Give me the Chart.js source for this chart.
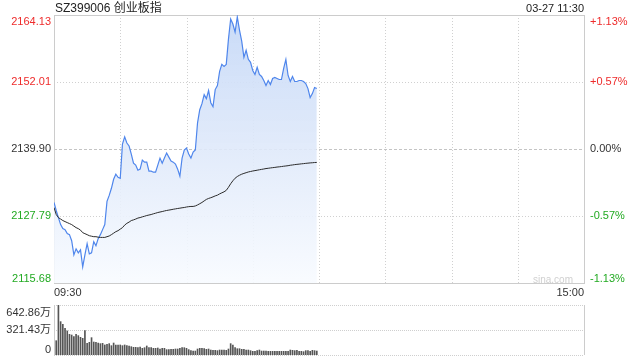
<!DOCTYPE html>
<html>
<head>
<meta charset="utf-8">
<script src="https://cdn.jsdelivr.net/npm/chart.js@4.4.1/dist/chart.umd.min.js"></script>
<style>
    html, body { margin: 0; padding: 0; background: #fff; }
    body { width: 640px; height: 360px; position: relative; overflow: hidden;
           font-family: "Liberation Sans", Arial, "Noto Sans CJK SC", sans-serif; }
    #title { position: absolute; left: 55px; top: 0; font-size: 12px; line-height: 16px; color: #222; }
    #stamp { position: absolute; right: 56px; top: 0; font-size: 11px; line-height: 16px; color: #222; }
    #brand { position: absolute; right: 67px; top: 274px; font-size: 10px; line-height: 12px; color: #d0d0d0; }
    #priceBox { position: absolute; left: 0; top: 0; }
    #volBox { position: absolute; left: 0; top: 300px; }
</style>
</head>
<body>
<div id="priceBox"><canvas id="priceChart" width="640" height="300"></canvas></div>
<div id="volBox"><canvas id="volChart" width="640" height="60"></canvas></div>
<div id="title">SZ399006 创业板指</div>
<div id="stamp">03-27 11:30</div>
<div id="brand">sina.com</div>
<script>
// 分时数据 (每分钟, 09:30 起)
const price = [
    2130.24, 2128.79, 2127.51, 2126.24, 2125.51, 2125.33, 2124.60, 2124.42, 2123.32, 2120.77,
    2121.86, 2121.14, 2121.68, 2118.60, 2120.77, 2122.78, 2120.95, 2121.14, 2123.14, 2122.41,
    2123.69, 2124.42, 2125.33, 2126.24, 2130.43, 2131.52, 2132.80, 2134.43, 2135.35, 2134.80,
    2134.62, 2140.81, 2142.09, 2140.99, 2140.45, 2138.99, 2137.35, 2136.99, 2136.07, 2136.26,
    2137.90, 2137.53, 2137.53, 2135.89, 2135.89, 2135.71, 2135.71, 2136.99, 2138.26, 2137.35,
    2138.26, 2139.17, 2138.44, 2137.71, 2137.53, 2137.17, 2136.26, 2134.98, 2138.26, 2139.72,
    2140.08, 2138.99, 2138.26, 2139.35, 2139.72, 2144.64, 2147.01, 2148.10, 2149.74, 2149.01,
    2150.47, 2148.28, 2147.55, 2150.65, 2151.38, 2153.93, 2155.20, 2154.84, 2155.20, 2159.76,
    2163.40, 2162.49, 2161.03, 2163.77, 2161.40, 2159.39, 2156.48, 2157.75, 2156.11, 2155.57,
    2154.11, 2153.38, 2154.66, 2153.38, 2153.02, 2152.29, 2151.38, 2152.29, 2151.56, 2152.65,
    2152.84, 2152.65, 2152.47, 2152.47, 2154.47, 2156.11, 2153.20, 2152.11, 2153.02, 2152.11,
    2152.11, 2152.29, 2152.29, 2152.11, 2151.74, 2150.83, 2149.19, 2149.92, 2151.01, 2150.83
];
const avgPrice = [
    2129.33, 2128.06, 2127.51, 2127.24, 2126.97, 2126.78, 2126.60, 2126.42, 2126.24, 2125.96,
    2125.69, 2125.51, 2125.24, 2124.78, 2124.60, 2124.42, 2124.23, 2124.14, 2124.05, 2124.05,
    2123.96, 2123.92, 2123.92, 2123.92, 2124.05, 2124.18, 2124.42, 2124.69, 2124.96, 2125.14,
    2125.42, 2125.69, 2126.15, 2126.47, 2126.69, 2126.97, 2127.09, 2127.24, 2127.42, 2127.51,
    2127.64, 2127.75, 2127.88, 2127.97, 2128.06, 2128.19, 2128.30, 2128.42, 2128.51, 2128.60,
    2128.70, 2128.79, 2128.86, 2128.93, 2129.01, 2129.08, 2129.15, 2129.21, 2129.28, 2129.33,
    2129.42, 2129.48, 2129.52, 2129.52, 2129.61, 2129.79, 2130.01, 2130.24, 2130.52, 2130.79,
    2130.97, 2131.10, 2131.25, 2131.43, 2131.56, 2131.79, 2131.98, 2132.16, 2132.43, 2132.98,
    2133.62, 2134.16, 2134.62, 2134.93, 2135.16, 2135.35, 2135.49, 2135.62, 2135.75, 2135.84,
    2135.93, 2136.00, 2136.07, 2136.15, 2136.22, 2136.29, 2136.37, 2136.42, 2136.48, 2136.53,
    2136.58, 2136.64, 2136.68, 2136.73, 2136.79, 2136.84, 2136.89, 2136.97, 2137.02, 2137.08,
    2137.13, 2137.17, 2137.22, 2137.26, 2137.31, 2137.35, 2137.39, 2137.42, 2137.46, 2137.48
];
// 成交量 (万), 从 09:31 起
const volume = [
    184, 643, 429, 394, 343, 309, 266, 257, 236, 266,
    249, 227, 214, 313, 150, 163, 223, 167, 163, 154,
    146, 150, 129, 137, 146, 120, 154, 129, 129, 129,
    120, 129, 120, 116, 107, 99, 99, 94, 103, 86,
    94, 116, 94, 94, 86, 86, 90, 77, 86, 86,
    69, 69, 73, 73, 77, 77, 86, 94, 94, 86,
    69, 56, 51, 51, 77, 86, 86, 81, 73, 77,
    64, 60, 60, 56, 64, 64, 64, 60, 77, 146,
    129, 94, 81, 81, 73, 73, 64, 64, 56, 47,
    47, 56, 64, 51, 51, 51, 47, 47, 47, 47,
    47, 47, 47, 47, 47, 47, 64, 60, 56, 60,
    47, 47, 43, 56, 56, 47, 60, 56, 51
];

const priceTicks = [2164.13, 2152.01, 2139.90, 2127.79, 2115.68];
const priceTickLabels = ['2164.13', '2152.01', '2139.90', '2127.79', '2115.68'];
const pctTickLabels = ['+1.13%', '+0.57%', '0.00%', '-0.57%', '-1.13%'];
const volTicks = [642.86, 321.43, 0];
const volTickLabels = ['642.86万', '321.43万', '0'];
const timeTicks = [0, 240];
const timeTickLabels = ['09:30', '15:00'];
const gridMinutes = [30, 60, 90, 120, 150, 180, 210];
const totalMinutes = 240;

const RED = '#ee2b2b';
const GREEN = '#22aa22';
const DARK = '#333333';
const FONT = '11px "Liberation Sans", Arial, "Noto Sans CJK SC", sans-serif';

function tickColor(i, n) {
    const mid = (n - 1) / 2;
    if (i < mid) return RED;
    if (i > mid) return GREEN;
    return DARK;
}

function hLine(ctx, x1, x2, y) {
    ctx.beginPath();
    ctx.moveTo(x1, y);
    ctx.lineTo(x2, y);
    ctx.stroke();
}

function vLine(ctx, x, y1, y2) {
    ctx.beginPath();
    ctx.moveTo(x, y1);
    ctx.lineTo(x, y2);
    ctx.stroke();
}

// 分时图网格和坐标文字
const priceFrame = {
    id: 'priceFrame',
    beforeDatasetsDraw(chart) {
        const { ctx, chartArea: a, scales: { x, y } } = chart;
        ctx.save();
        ctx.lineWidth = 1;
        ctx.strokeStyle = '#d0d0d0';
        ctx.setLineDash([1, 2]);
        gridMinutes.forEach(m => {
            const px = Math.round(x.getPixelForValue(m)) + 0.5;
            vLine(ctx, px, a.top, a.bottom);
        });
        priceTicks.forEach((v, i) => {
            if (i === 0 || i === priceTicks.length - 1) return;
            const py = Math.round(y.getPixelForValue(v)) + 0.5;
            if (i === 2) {
                ctx.strokeStyle = '#c4c4c4';
                ctx.setLineDash([3, 2]);
            } else {
                ctx.strokeStyle = '#d0d0d0';
                ctx.setLineDash([1, 2]);
            }
            hLine(ctx, a.left, a.right, py);
        });
        ctx.setLineDash([]);
        ctx.strokeStyle = '#cccccc';
        ctx.strokeRect(Math.round(a.left) + 0.5, Math.round(a.top) + 0.5,
            Math.round(a.right - a.left), Math.round(a.bottom - a.top));
        ctx.restore();
    },
    afterDraw(chart) {
        const { ctx, chartArea: a, scales: { x, y } } = chart;
        const n = priceTicks.length;
        ctx.save();
        ctx.font = FONT;
        priceTicks.forEach((v, i) => {
            let py = y.getPixelForValue(v);
            if (i === 0) { ctx.textBaseline = 'top'; py = a.top + 1; }
            else if (i === n - 1) { ctx.textBaseline = 'alphabetic'; py = a.bottom - 1; }
            else ctx.textBaseline = 'middle';
            ctx.fillStyle = tickColor(i, n);
            ctx.textAlign = 'right';
            ctx.fillText(priceTickLabels[i], a.left - 3, py);
            ctx.textAlign = 'left';
            ctx.fillText(pctTickLabels[i], a.right + 6, py);
        });
        ctx.fillStyle = DARK;
        ctx.textBaseline = 'top';
        timeTicks.forEach((m, i) => {
            ctx.textAlign = i === 0 ? 'left' : 'right';
            ctx.fillText(timeTickLabels[i], x.getPixelForValue(m), a.bottom + 4);
        });
        ctx.restore();
    }
};

// 成交量图网格和坐标文字
const volFrame = {
    id: 'volFrame',
    beforeDatasetsDraw(chart) {
        const { ctx, chartArea: a, scales: { y } } = chart;
        ctx.save();
        ctx.lineWidth = 1;
        ctx.strokeStyle = '#cfcfcf';
        ctx.setLineDash([1, 1]);
        volTicks.forEach(v => {
            const py = Math.round(y.getPixelForValue(v)) + 0.5;
            hLine(ctx, a.left, a.right, py);
        });
        ctx.setLineDash([]);
        ctx.strokeStyle = '#cccccc';
        vLine(ctx, Math.round(a.left) + 0.5, a.top, a.bottom);
        vLine(ctx, Math.round(a.right) + 0.5, a.top, a.bottom);
        ctx.restore();
    },
    afterDraw(chart) {
        const { ctx, chartArea: a, scales: { y } } = chart;
        ctx.save();
        ctx.font = FONT;
        ctx.fillStyle = DARK;
        ctx.textAlign = 'right';
        volTicks.forEach((v, i) => {
            let py = y.getPixelForValue(v);
            if (i === 0) { ctx.textBaseline = 'top'; py = a.top + 2; }
            else if (i === volTicks.length - 1) { ctx.textBaseline = 'alphabetic'; py = a.bottom - 2; }
            else ctx.textBaseline = 'middle';
            ctx.fillText(volTickLabels[i], a.left - 3, py);
        });
        ctx.restore();
    }
};

function fillGradient(context) {
    const { ctx, chartArea } = context.chart;
    if (!chartArea) return 'rgba(210,225,248,0.6)';
    const g = ctx.createLinearGradient(0, chartArea.top, 0, chartArea.bottom);
    g.addColorStop(0, 'rgba(198,217,247,0.95)');
    g.addColorStop(0.5, 'rgba(223,233,250,0.9)');
    g.addColorStop(1, 'rgba(248,251,255,0.9)');
    return g;
}

new Chart(document.getElementById('priceChart'), {
    type: 'line',
    data: {
        datasets: [
            {
                data: avgPrice.map((v, i) => ({ x: i, y: v })),
                borderColor: '#2b2b2b',
                borderWidth: 1,
                pointRadius: 0,
                fill: false,
                tension: 0
            },
            {
                data: price.map((v, i) => ({ x: i, y: v })),
                borderColor: '#4f86ec',
                borderWidth: 1.2,
                pointRadius: 0,
                fill: 'start',
                backgroundColor: fillGradient,
                tension: 0
            }
        ]
    },
    options: {
        responsive: false,
        animation: false,
        layout: { padding: { left: 54, right: 56, top: 15, bottom: 17 } },
        plugins: { legend: { display: false }, tooltip: { enabled: false } },
        scales: {
            x: { type: 'linear', min: 0, max: totalMinutes, display: false },
            y: { min: priceTicks[priceTicks.length - 1], max: priceTicks[0], display: false }
        }
    },
    plugins: [priceFrame]
});

new Chart(document.getElementById('volChart'), {
    type: 'bar',
    data: {
        datasets: [{
            data: volume.map((v, i) => ({ x: i + 1, y: v })),
            backgroundColor: '#555555',
            barThickness: 1
        }]
    },
    options: {
        responsive: false,
        animation: false,
        layout: { padding: { left: 54, right: 56, top: 5, bottom: 5 } },
        plugins: { legend: { display: false }, tooltip: { enabled: false } },
        scales: {
            x: { type: 'linear', offset: false, min: 0, max: totalMinutes, display: false },
            y: { min: 0, max: volTicks[0], display: false }
        }
    },
    plugins: [volFrame]
});
</script>
</body>
</html>
